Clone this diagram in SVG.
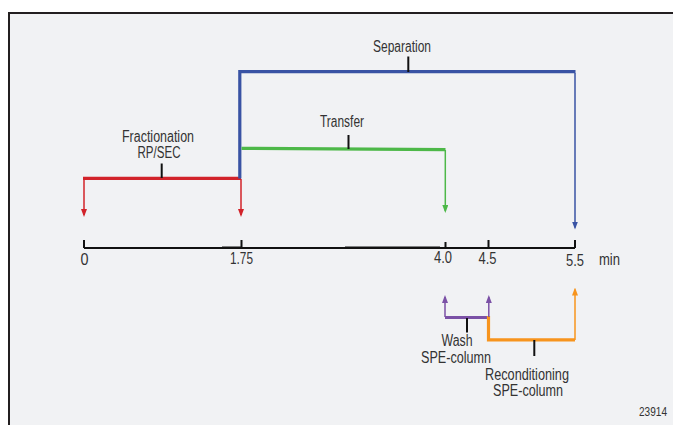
<svg xmlns="http://www.w3.org/2000/svg" width="673" height="425" viewBox="0 0 673 425">
<defs>
<style>
text{font-family:"Liberation Sans Narrow","Liberation Sans",Arial,sans-serif;font-size:16px;fill:#333;text-anchor:middle}
.thin{fill:none;stroke-width:1.5}
.bar{fill:none;stroke-width:3.2}
.tick{stroke:#111;stroke-width:2;fill:none}
.red{stroke:#d2232a}
.blue{stroke:#3953a4}
.green{stroke:#4db848}
.purple{stroke:#7b51a6}
.orange{stroke:#f7941d}
</style>
<marker id="aRed" viewBox="0 0 8 6" refX="6" refY="3" markerWidth="8" markerHeight="6" markerUnits="userSpaceOnUse" orient="auto"><path d="M0,0L8,3L0,6z" fill="#d2232a"/></marker>
<marker id="aBlue" viewBox="0 0 8 6" refX="6" refY="3" markerWidth="8" markerHeight="6" markerUnits="userSpaceOnUse" orient="auto"><path d="M0,0L8,3L0,6z" fill="#3953a4"/></marker>
<marker id="aGreen" viewBox="0 0 8 6" refX="6" refY="3" markerWidth="8" markerHeight="6" markerUnits="userSpaceOnUse" orient="auto"><path d="M0,0L8,3L0,6z" fill="#4db848"/></marker>
<marker id="aPurple" viewBox="0 0 8 6" refX="6" refY="3" markerWidth="8" markerHeight="6" markerUnits="userSpaceOnUse" orient="auto"><path d="M0,0L8,3L0,6z" fill="#7b51a6"/></marker>
<marker id="aOrange" viewBox="0 0 8 6" refX="6" refY="3" markerWidth="8" markerHeight="6" markerUnits="userSpaceOnUse" orient="auto"><path d="M0,0L8,3L0,6z" fill="#f7941d"/></marker>
</defs>
<rect x="0" y="0" width="673" height="425" fill="#ffffff"/>
<rect x="9" y="13" width="680" height="430" fill="#f1f2f4" stroke="#231f20" stroke-width="2"/>

<g id="axis">
<path d="M84,248H575" stroke="#111" stroke-width="2" fill="none"/>
<path d="M222,247.7H241M345,247.7H440" stroke="#111" stroke-width="2.4" fill="none"/>
<path class="tick" d="M84,240V248M241.5,240V248M445.5,242V248M488.5,240V248M575,240V248"/>
<text x="84.5" y="265" textLength="8" lengthAdjust="spacingAndGlyphs">0</text>
<text x="241.5" y="264" textLength="23" lengthAdjust="spacingAndGlyphs">1.75</text>
<text x="443" y="263" textLength="18" lengthAdjust="spacingAndGlyphs">4.0</text>
<text x="487.5" y="264" textLength="18" lengthAdjust="spacingAndGlyphs">4.5</text>
<text x="575" y="266" textLength="18" lengthAdjust="spacingAndGlyphs">5.5</text>
<text x="609.5" y="265" textLength="21" lengthAdjust="spacingAndGlyphs">min</text>
</g>

<g id="fractionation">
<path class="bar red" d="M83,178.3H241"/>
<path class="tick" d="M161.7,163.5V178"/>
<text x="158" y="142" textLength="72" lengthAdjust="spacingAndGlyphs">Fractionation</text>
<text x="159" y="157.5" textLength="43" lengthAdjust="spacingAndGlyphs">RP/SEC</text>
</g>

<g id="separation">
<path class="bar blue" d="M239.8,178.5V71.6H575.5" stroke-width="3.4"/>
<path class="tick" d="M408.3,56.5V72"/>
<text x="402" y="51.5" textLength="58" lengthAdjust="spacingAndGlyphs">Separation</text>
</g>

<g id="transfer">
<path class="bar green" d="M241.5,148.3L445.5,149.6"/>
<path class="tick" d="M348.5,135V149"/>
<text x="342" y="126.5" textLength="44" lengthAdjust="spacingAndGlyphs">Transfer</text>
</g>

<g id="wash">
<path class="bar purple" d="M445,317.5H489"/>
<path class="tick" d="M467,318V332.5"/>
<text x="457" y="346" textLength="31" lengthAdjust="spacingAndGlyphs">Wash</text>
<text x="456" y="363" textLength="70" lengthAdjust="spacingAndGlyphs">SPE-column</text>
</g>

<g id="reconditioning">
<path class="bar orange" d="M488.5,316V339.8H575" stroke-width="3.6"/>
<path class="tick" d="M534.3,340V356"/>
<text x="527" y="380" textLength="84" lengthAdjust="spacingAndGlyphs">Reconditioning</text>
<text x="528" y="396" textLength="70" lengthAdjust="spacingAndGlyphs">SPE-column</text>
</g>

<text x="653" y="416" style="font-size:12px" textLength="28" lengthAdjust="spacingAndGlyphs">23914</text>

<g id="connectors">
<path class="thin red" d="M84,178V215" marker-end="url(#aRed)"/>
<path class="thin red" d="M241,179V215" marker-end="url(#aRed)"/>
<path class="thin green" d="M445.3,150V211" marker-end="url(#aGreen)"/>
<path class="thin blue" d="M575,73V227.5" marker-end="url(#aBlue)"/>
<path class="thin purple" d="M445,317V297" marker-end="url(#aPurple)"/>
<path class="thin purple" d="M488.8,317V297" marker-end="url(#aPurple)"/>
<path class="thin orange" d="M575,340V289.5" marker-end="url(#aOrange)"/>
</g>
</svg>
